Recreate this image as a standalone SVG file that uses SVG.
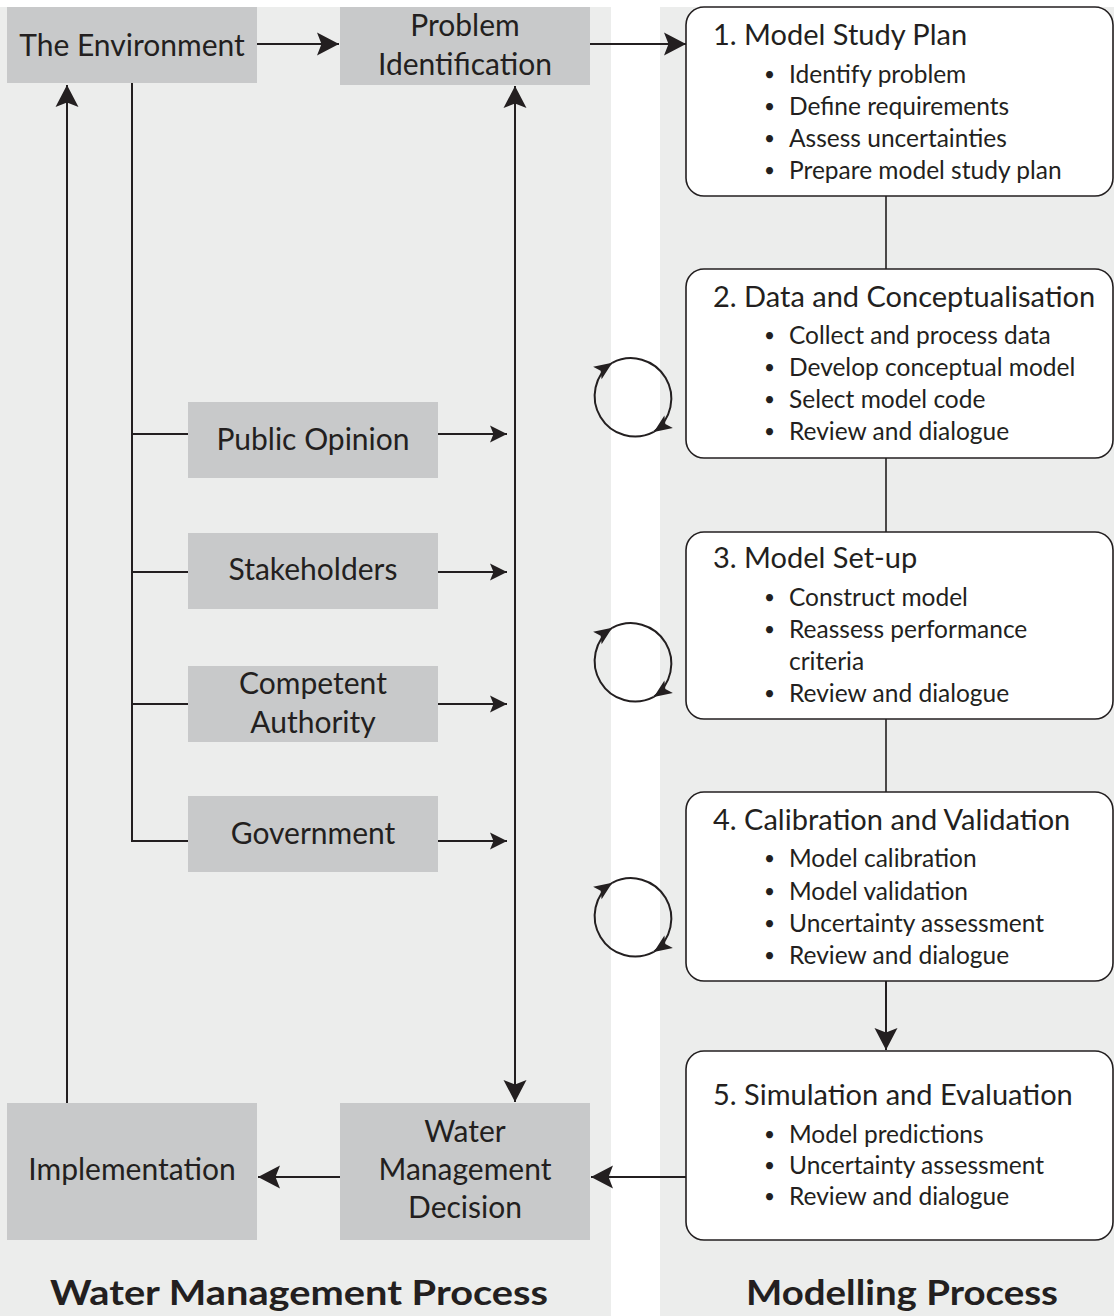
<svg xmlns="http://www.w3.org/2000/svg" width="1114" height="1316" viewBox="0 0 1114 1316">
<style>
.panel{fill:#ecedec}
.gbox{fill:#c8c9ca}
.wbox{fill:#ffffff;stroke:#231f20;stroke-width:1.6}
.lt{font-family:Lato,"Open Sans","Liberation Sans",sans-serif;font-size:30px;fill:#231f20;text-anchor:middle}
.tt{font-family:Lato,"Open Sans","Liberation Sans",sans-serif;font-size:29px;fill:#231f20}
.bt{font-family:Lato,"Open Sans","Liberation Sans",sans-serif;font-size:24.5px;fill:#231f20}
.bu{font-family:Lato,"Open Sans","Liberation Sans",sans-serif;font-size:19px;fill:#231f20}
.hd{font-family:Lato,"Open Sans","Liberation Sans",sans-serif;font-size:35px;font-weight:bold;fill:#231f20}
.ln{fill:none;stroke:#231f20;stroke-width:2}
.lnb{fill:none;stroke:#231f20;stroke-width:1.6}
.cir{fill:none;stroke:#231f20;stroke-width:2}
</style>
<defs>
<marker id="ah" viewBox="-23 -13 24 26" refX="0" refY="0" markerWidth="24" markerHeight="26" markerUnits="userSpaceOnUse" orient="auto-start-reverse">
<path d="M0,0 L-22,-11.5 L-17.5,0 L-22,11.5 Z" fill="#231f20"/>
</marker>
<marker id="as" viewBox="-18 -10 19 20" refX="0" refY="0" markerWidth="19" markerHeight="20" markerUnits="userSpaceOnUse" orient="auto">
<path d="M0,0 L-17,-8.5 L-13.5,0 L-17,8.5 Z" fill="#231f20"/>
</marker>
<marker id="ac" viewBox="-19 -9 20 18" refX="0" refY="0" markerWidth="20" markerHeight="18" markerUnits="userSpaceOnUse" orient="auto">
<path d="M0,0 L-18,-7.5 L-14,0 L-18,7.5 Z" fill="#231f20"/>
</marker>
</defs>

<rect class="panel" x="0" y="7" width="611" height="1309"/>
<rect class="panel" x="660" y="7" width="454" height="1309"/>

<g id="connectors">
<line class="ln" x1="257" y1="44" x2="339" y2="44" marker-end="url(#ah)"/>
<line class="ln" x1="590" y1="44" x2="686" y2="44" marker-end="url(#ah)"/>
<line class="ln" x1="515" y1="86" x2="515" y2="1102" marker-start="url(#ah)" marker-end="url(#ah)"/>
<line class="ln" x1="132" y1="83" x2="132" y2="841"/>
<line class="ln" x1="131" y1="434" x2="188" y2="434"/>
<line class="ln" x1="131" y1="572" x2="188" y2="572"/>
<line class="ln" x1="131" y1="704" x2="188" y2="704"/>
<line class="ln" x1="131" y1="841" x2="188" y2="841"/>
<line class="ln" x1="438" y1="434" x2="507" y2="434" marker-end="url(#as)"/>
<line class="ln" x1="438" y1="572" x2="507" y2="572" marker-end="url(#as)"/>
<line class="ln" x1="438" y1="704" x2="507" y2="704" marker-end="url(#as)"/>
<line class="ln" x1="438" y1="841" x2="507" y2="841" marker-end="url(#as)"/>
<line class="ln" x1="67" y1="1103" x2="67" y2="85" marker-end="url(#ah)"/>
<line class="ln" x1="340" y1="1177" x2="258" y2="1177" marker-end="url(#ah)"/>
<line class="ln" x1="686" y1="1177" x2="591" y2="1177" marker-end="url(#ah)"/>
<line class="lnb" x1="886" y1="196" x2="886" y2="269"/>
<line class="lnb" x1="886" y1="458" x2="886" y2="532"/>
<line class="lnb" x1="886" y1="719" x2="886" y2="792"/>
<line class="ln" x1="886" y1="981" x2="886" y2="1050" marker-end="url(#ah)"/>
<path class="cir" d="M653.8,431.9 A40.4,40.4 0 0 1 612.2,362.8" marker-end="url(#ac)"/>
<path class="cir" d="M612.2,362.8 A40.4,40.4 0 0 1 653.8,431.9" marker-end="url(#ac)"/>
<path class="cir" d="M653.8,696.9 A40.4,40.4 0 0 1 612.2,627.8" marker-end="url(#ac)"/>
<path class="cir" d="M612.2,627.8 A40.4,40.4 0 0 1 653.8,696.9" marker-end="url(#ac)"/>
<path class="cir" d="M653.8,951.9 A40.4,40.4 0 0 1 612.2,882.8" marker-end="url(#ac)"/>
<path class="cir" d="M612.2,882.8 A40.4,40.4 0 0 1 653.8,951.9" marker-end="url(#ac)"/>
</g>

<g id="environment">
<rect class="gbox" x="7" y="7" width="250" height="76"/>
<text class="lt" x="132" y="56">The Environment</text>
</g>
<g id="problem-identification">
<rect class="gbox" x="340" y="7" width="250" height="78"/>
<text class="lt" x="465" y="36">Problem</text>
<text class="lt" x="465" y="75">Identification</text>
</g>
<g id="public-opinion">
<rect class="gbox" x="188" y="402" width="250" height="76"/>
<text class="lt" x="313" y="450">Public Opinion</text>
</g>
<g id="stakeholders">
<rect class="gbox" x="188" y="533" width="250" height="76"/>
<text class="lt" x="313" y="580">Stakeholders</text>
</g>
<g id="competent-authority">
<rect class="gbox" x="188" y="666" width="250" height="76"/>
<text class="lt" x="313" y="694">Competent</text>
<text class="lt" x="313" y="733">Authority</text>
</g>
<g id="government">
<rect class="gbox" x="188" y="796" width="250" height="76"/>
<text class="lt" x="313" y="844">Government</text>
</g>
<g id="implementation">
<rect class="gbox" x="7" y="1103" width="250" height="137"/>
<text class="lt" x="132" y="1180">Implementation</text>
</g>
<g id="water-management-decision">
<rect class="gbox" x="340" y="1103" width="250" height="137"/>
<text class="lt" x="465" y="1142">Water</text>
<text class="lt" x="465" y="1180">Management</text>
<text class="lt" x="465" y="1218">Decision</text>
</g>

<g id="step1">
<rect class="wbox" x="686" y="7" width="427" height="189" rx="18"/>
<text class="tt" x="713" y="45">1. Model Study Plan</text>
<text class="bu" x="764" y="81">•</text><text class="bt" x="789" y="83">Identify problem</text>
<text class="bu" x="764" y="113">•</text><text class="bt" x="789" y="115">Define requirements</text>
<text class="bu" x="764" y="145">•</text><text class="bt" x="789" y="147">Assess uncertainties</text>
<text class="bu" x="764" y="177">•</text><text class="bt" x="789" y="179">Prepare model study plan</text>
</g>
<g id="step2">
<rect class="wbox" x="686" y="269" width="427" height="189" rx="18"/>
<text class="tt" x="713" y="307">2. Data and Conceptualisation</text>
<text class="bu" x="764" y="342">•</text><text class="bt" x="789" y="344">Collect and process data</text>
<text class="bu" x="764" y="374">•</text><text class="bt" x="789" y="376">Develop conceptual model</text>
<text class="bu" x="764" y="406">•</text><text class="bt" x="789" y="408">Select model code</text>
<text class="bu" x="764" y="438">•</text><text class="bt" x="789" y="440">Review and dialogue</text>
</g>
<g id="step3">
<rect class="wbox" x="686" y="532" width="427" height="187" rx="18"/>
<text class="tt" x="713" y="568">3. Model Set-up</text>
<text class="bu" x="764" y="604">•</text><text class="bt" x="789" y="606">Construct model</text>
<text class="bu" x="764" y="636">•</text><text class="bt" x="789" y="638">Reassess performance</text>
<text class="bt" x="789" y="670">criteria</text>
<text class="bu" x="764" y="700">•</text><text class="bt" x="789" y="702">Review and dialogue</text>
</g>
<g id="step4">
<rect class="wbox" x="686" y="792" width="427" height="189" rx="18"/>
<text class="tt" x="713" y="830">4. Calibration and Validation</text>
<text class="bu" x="764" y="865">•</text><text class="bt" x="789" y="867">Model calibration</text>
<text class="bu" x="764" y="898">•</text><text class="bt" x="789" y="900">Model validation</text>
<text class="bu" x="764" y="930">•</text><text class="bt" x="789" y="932">Uncertainty assessment</text>
<text class="bu" x="764" y="962">•</text><text class="bt" x="789" y="964">Review and dialogue</text>
</g>
<g id="step5">
<rect class="wbox" x="686" y="1051" width="427" height="189" rx="18"/>
<text class="tt" x="713" y="1105">5. Simulation and Evaluation</text>
<text class="bu" x="764" y="1141">•</text><text class="bt" x="789" y="1143">Model predictions</text>
<text class="bu" x="764" y="1172">•</text><text class="bt" x="789" y="1174">Uncertainty assessment</text>
<text class="bu" x="764" y="1203">•</text><text class="bt" x="789" y="1205">Review and dialogue</text>
</g>

<g id="titles">
<text class="hd" x="50" y="1305" textLength="498" lengthAdjust="spacingAndGlyphs">Water Management Process</text>
<text class="hd" x="746" y="1305" textLength="312" lengthAdjust="spacingAndGlyphs">Modelling Process</text>
</g>
</svg>
